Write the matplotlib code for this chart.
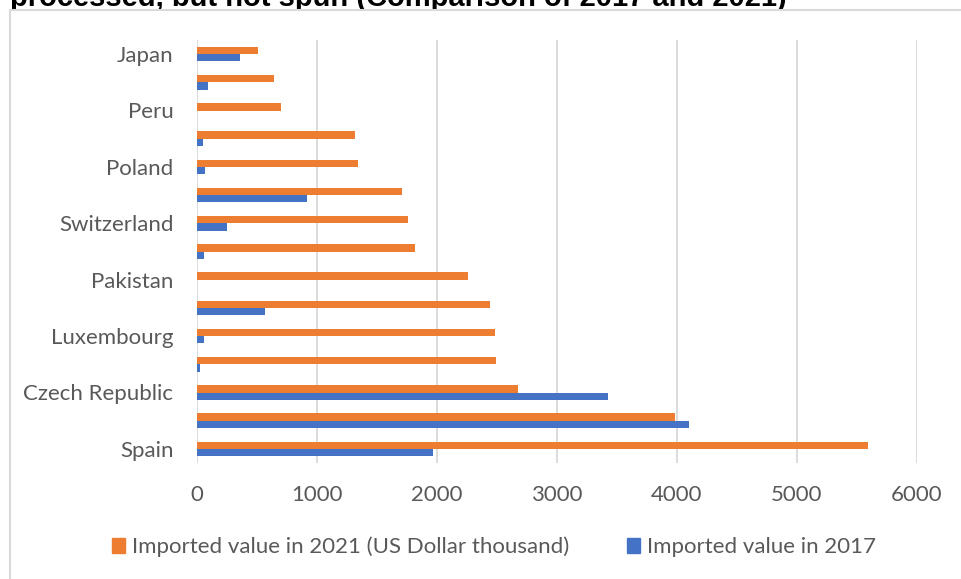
import matplotlib.pyplot as plt
from matplotlib.patches import Patch, Rectangle
import numpy as np

# categories listed bottom to top; only every other one gets a tick label
countries = ['Spain', '', 'Czech Republic', '', 'Luxembourg', '', 'Pakistan', '',
             'Switzerland', '', 'Poland', '', 'Peru', '', 'Japan']
value_2021 = [5592, 3983, 2678, 2490, 2480, 2440, 2258, 1819, 1756, 1708, 1339, 1314, 697, 642, 506]
value_2017 = [1964, 4100, 3428, 25, 61, 564, 0, 61, 247, 919, 69, 47, 0, 92, 361]
x_ticks = [0, 1000, 2000, 3000, 4000, 5000, 6000]

ORANGE = '#ED7D31'
BLUE = '#4472C4'
TEXT = '#595959'
GRID = '#D9D9D9'

W, H = 962, 579
fig = plt.figure(figsize=(W / 100, H / 100), dpi=100)
plt.rcParams['font.family'] = ['Lato', 'DejaVu Sans']

# chart area box (runs off the right and bottom edges)
fig.patches.append(Rectangle((10 / W, -0.1), 1.1, 1 - 10 / H + 0.1, transform=fig.transFigure,
                             facecolor='white', edgecolor=GRID, lw=1.5, zorder=1))
fig.text(10 / W, 1 - 6 / H, 'processed, but not spun (Comparison of 2017 and 2021)',
         fontsize=21, fontweight='bold', family='Liberation Sans', color='black',
         va='baseline', ha='left', zorder=0.5)

ax = fig.add_axes([197 / W, 1 - 463 / H, 720 / W, 423 / H], zorder=2)
ax.patch.set_visible(False)

y = np.arange(len(countries))
h = 0.262
ax.barh(y + h / 2, value_2021, height=h, color=ORANGE, zorder=3)
ax.barh(y - h / 2, value_2017, height=h, color=BLUE, zorder=3)

ax.set_xlim(0, 6000)
ax.set_ylim(-0.5, len(countries) - 0.5)
ax.set_xticks(x_ticks)
ax.set_yticks(y[::2])
ax.set_yticklabels(countries[::2])
ax.tick_params(axis='both', length=0, colors=TEXT, labelsize=16)
ax.tick_params(axis='y', pad=17)
ax.tick_params(axis='x', pad=16)
ax.grid(axis='x', color=GRID, lw=1.3)
ax.set_axisbelow(True)
for s in ax.spines.values():
    s.set_visible(False)

handles = [Patch(color=ORANGE, label='Imported value in 2021 (US Dollar thousand)'),
           Patch(color=BLUE, label='Imported value in 2017')]
leg = fig.legend(handles=handles, loc='center', bbox_to_anchor=(494 / W, 1 - 547 / H), ncol=2,
                 frameon=False, fontsize=16, handlelength=0.6, handleheight=0.6,
                 handletextpad=0.3, columnspacing=2.6, labelcolor=TEXT)
leg.set_zorder(5)

fig.savefig('out.png', dpi=100)
